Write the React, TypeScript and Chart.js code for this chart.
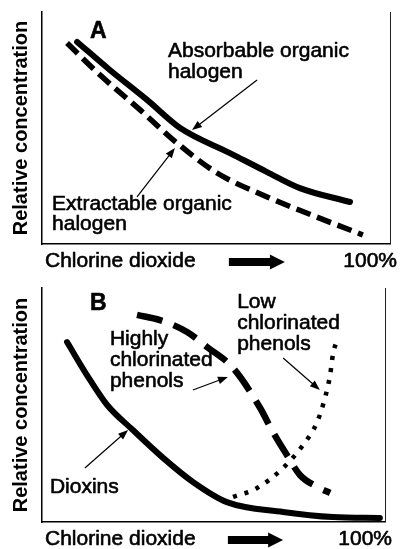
import React, { useEffect, useRef } from "react";
import { Chart, registerables } from "chart.js";

Chart.register(...registerables);

// ---------- Panel A data (x: chlorine dioxide substitution %, y: relative concentration) ----------
const aoxX = [10.1, 19.5, 30.2, 39.7, 54.0, 64.7, 74.1, 88.5];
const aoxY = [87.1, 75.0, 62.1, 50.0, 39.2, 31.0, 24.1, 18.1];
const eoxX = [7.2, 16.7, 28.2, 38.8, 50.3, 64.7, 79.0, 92.2];
const eoxY = [86.6, 72.8, 57.8, 43.5, 30.6, 20.3, 11.6, 3.9];

// ---------- Panel B data ----------
const dioxX = [7.3, 13.1, 19.0, 26.5, 35.3, 44.0, 53.9, 70.3, 84.8, 98.5];
const dioxY = [76.9, 62.8, 50.0, 39.3, 27.4, 17.1, 8.5, 4.3, 2.1, 1.7];
const hcpX = [27.7, 34.4, 42.3, 48.1, 55.7, 63.6, 67.3, 71.4, 75.2, 80.2, 84.0];
const hcpY = [88.5, 86.3, 81.2, 74.8, 65.8, 48.7, 38.5, 28.6, 20.1, 15.0, 12.4];
const lcpX = [55.7, 62.7, 70.3, 76.1, 80.2, 82.5, 84.0, 84.8, 86.0];
const lcpY = [10.7, 14.5, 23.1, 32.9, 42.7, 53.0, 62.8, 71.4, 77.8];

// ---------- Text ----------
const yTitle = "Relative concentration";
const xTitle = "Chlorine dioxide";
const xEnd = "100%";
const panelALabel = "A";
const panelBLabel = "B";
const aoxLabel = ["Absorbable organic", "halogen"];
const eoxLabel = ["Extractable organic", "halogen"];
const hcpLabel = ["Highly", "chlorinated", "phenols"];
const lcpLabel = ["Low", "chlorinated", "phenols"];
const dioxLabel = ["Dioxins"];

const FONT = "'Liberation Sans', Arial, Helvetica, sans-serif";

type Note = { lines: string[]; x: number; y: number; bold?: boolean; size: number; lh: number };
type Arrow = { x0: number; y0: number; x1: number; y1: number };
type Annot = { notes: Note[]; arrows: Arrow[]; blockArrow: [number, number] };

const pts = (xs: number[], ys: number[]) => xs.map((x, i) => ({ x, y: ys[i] }));

function heavyText(ctx: CanvasRenderingContext2D, t: string, x: number, y: number) {
  ctx.fillText(t, x, y);
  ctx.strokeText(t, x, y);
}

const annotPlugin = {
  id: "annot",
  afterDraw(chart: any) {
    const cfg: Annot = chart.options.plugins.annot;
    if (!cfg) return;
    const { ctx, chartArea } = chart;
    const xs = chart.scales.x;
    const ys = chart.scales.y;
    ctx.save();
    // right frame line
    ctx.strokeStyle = "#222";
    ctx.lineWidth = 1;
    ctx.beginPath();
    ctx.moveTo(chartArea.right + 0.5, chartArea.top);
    ctx.lineTo(chartArea.right + 0.5, chartArea.bottom);
    ctx.stroke();

    ctx.fillStyle = "#000";
    ctx.strokeStyle = "#000";
    ctx.lineWidth = 0.6;
    ctx.lineJoin = "round";
    ctx.textBaseline = "alphabetic";
    ctx.textAlign = "left";
    for (const n of cfg.notes) {
      ctx.font = `${n.bold ? "bold " : ""}${n.size}px ${FONT}`;
      const px = xs.getPixelForValue(n.x);
      const py = ys.getPixelForValue(n.y);
      n.lines.forEach((l, i) => heavyText(ctx, l, px, py + i * n.lh));
    }
    // thin arrows
    for (const a of cfg.arrows) {
      const x0 = xs.getPixelForValue(a.x0);
      const y0 = ys.getPixelForValue(a.y0);
      const x1 = xs.getPixelForValue(a.x1);
      const y1 = ys.getPixelForValue(a.y1);
      const ang = Math.atan2(y1 - y0, x1 - x0);
      const hl = 10;
      const hw = 3.8;
      ctx.lineWidth = 1.2;
      ctx.beginPath();
      ctx.moveTo(x0, y0);
      ctx.lineTo(x1 - Math.cos(ang) * hl * 0.8, y1 - Math.sin(ang) * hl * 0.8);
      ctx.stroke();
      ctx.beginPath();
      ctx.moveTo(x1, y1);
      ctx.lineTo(x1 - Math.cos(ang) * hl - Math.sin(ang) * hw, y1 - Math.sin(ang) * hl + Math.cos(ang) * hw);
      ctx.lineTo(x1 - Math.cos(ang) * hl + Math.sin(ang) * hw, y1 - Math.sin(ang) * hl - Math.cos(ang) * hw);
      ctx.closePath();
      ctx.fill();
    }
    // x-axis footer
    const base = chartArea.bottom + 23;
    ctx.font = `21px ${FONT}`;
    ctx.lineWidth = 0.6;
    ctx.textAlign = "left";
    heavyText(ctx, xTitle, chartArea.left + 3, base);
    ctx.textAlign = "right";
    heavyText(ctx, xEnd, chartArea.right + 7, base);
    // block arrow
    const bx0 = xs.getPixelForValue(cfg.blockArrow[0]);
    const bx1 = xs.getPixelForValue(cfg.blockArrow[1]);
    const cy = chartArea.bottom + 18;
    const head = 15;
    ctx.beginPath();
    ctx.moveTo(bx0, cy - 4);
    ctx.lineTo(bx1 - head, cy - 4);
    ctx.lineTo(bx1 - head, cy - 7.5);
    ctx.lineTo(bx1, cy);
    ctx.lineTo(bx1 - head, cy + 7.5);
    ctx.lineTo(bx1 - head, cy + 4);
    ctx.lineTo(bx0, cy + 4);
    ctx.closePath();
    ctx.fill();
    ctx.restore();
  },
};

function makeConfig(datasets: any[], annot: Annot, padding: any, xHeight: number) {
  return {
    type: "line",
    data: { datasets },
    plugins: [annotPlugin],
    options: {
      animation: false,
      responsive: false,
      maintainAspectRatio: false,
      layout: { padding },
      elements: { point: { radius: 0, hoverRadius: 0 } },
      plugins: {
        legend: { display: false },
        tooltip: { enabled: false },
        annot,
      },
      scales: {
        x: {
          type: "linear",
          min: 0,
          max: 100,
          grid: { display: false, drawTicks: false },
          ticks: { display: false },
          border: { display: true, color: "#000", width: 1.5 },
          afterFit: (s: any) => {
            s.height = xHeight;
          },
        },
        y: {
          type: "linear",
          min: 0,
          max: 100,
          grid: { display: false, drawTicks: false },
          ticks: { display: false },
          border: { display: true, color: "#000", width: 1.5 },
          title: {
            display: true,
            text: yTitle,
            color: "#000",
            font: { family: FONT, size: 20, weight: "bold" },
            padding: { top: 9, bottom: 0 },
          },
          afterFit: (s: any) => {
            s.width = 42;
          },
        },
      },
    },
  };
}

function ChartCanvas({ config, height }: { config: () => any; height: number }) {
  const ref = useRef<HTMLCanvasElement | null>(null);
  useEffect(() => {
    if (!ref.current) return;
    const chart = new Chart(ref.current, config());
    return () => chart.destroy();
  }, []);
  return <canvas ref={ref} width={400} height={height} style={{ display: "block", width: 400, height }} />;
}

const lineBase = { fill: false, pointRadius: 0, cubicInterpolationMode: "monotone", borderColor: "#000" };

const configA = () =>
  makeConfig(
    [
      { ...lineBase, label: "Absorbable organic halogen", data: pts(aoxX, aoxY), borderWidth: 6, borderCapStyle: "round" },
      { ...lineBase, label: "Extractable organic halogen", data: pts(eoxX, eoxY), borderWidth: 5.5, borderDash: [15, 7], borderCapStyle: "butt" },
    ],
    {
      notes: [
        { lines: [panelALabel], x: 13.8, y: 88.8, bold: true, size: 23, lh: 0 },
        { lines: aoxLabel, x: 36.2, y: 80.6, size: 21, lh: 21 },
        { lines: eoxLabel, x: 2.9, y: 14.7, size: 21, lh: 20 },
      ],
      arrows: [
        { x0: 61.8, y0: 70.7, x1: 43.1, y1: 49.1 },
        { x0: 27.3, y0: 20.3, x1: 38.2, y1: 41.4 },
      ],
      blockArrow: [53.7, 69.8],
    },
    { top: 12, right: 10, left: 0, bottom: 0 },
    31
  );

const configB = () =>
  makeConfig(
    [
      { ...lineBase, label: "Dioxins", data: pts(dioxX, dioxY), borderWidth: 6, borderCapStyle: "round" },
      { ...lineBase, label: "Highly chlorinated phenols", data: pts(hcpX, hcpY), borderWidth: 6.5, borderDash: [26, 12], borderCapStyle: "butt" },
      { ...lineBase, label: "Low chlorinated phenols", data: pts(lcpX, lcpY), borderWidth: 4.5, borderDash: [4, 8], borderCapStyle: "butt" },
    ],
    {
      notes: [
        { lines: [panelBLabel], x: 14.0, y: 90.6, bold: true, size: 23, lh: 0 },
        { lines: hcpLabel, x: 19.8, y: 75.6, size: 21, lh: 21 },
        { lines: lcpLabel, x: 56.9, y: 91.5, size: 21, lh: 21 },
        { lines: dioxLabel, x: 2.3, y: 12.4, size: 21, lh: 21 },
      ],
      arrows: [
        { x0: 44.0, y0: 56.4, x1: 54.2, y1: 62.0 },
        { x0: 70.3, y0: 70.1, x1: 81.0, y1: 56.4 },
        { x0: 12.5, y0: 23.1, x1: 25.1, y1: 39.3 },
      ],
      blockArrow: [54.2, 70.3],
    },
    { top: 13, right: 15, left: 0, bottom: 0 },
    27
  );

export default function App() {
  return (
    <div style={{ position: "absolute", left: 0, top: 0, width: 400, height: 549, background: "#fff" }}>
      <ChartCanvas config={configA} height={275} />
      <ChartCanvas config={configB} height={274} />
    </div>
  );
}
